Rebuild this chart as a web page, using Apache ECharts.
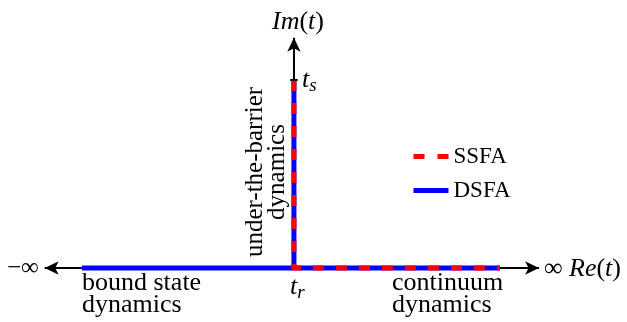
<!DOCTYPE html>
<html>
<head>
<meta charset="utf-8">
<script src="https://cdn.jsdelivr.net/npm/echarts@6/dist/echarts.min.js"></script>
<style>html,body{margin:0;padding:0;background:#fff;}#c{width:627px;height:322px;}</style>
</head>
<body>
<div id="c"></div>
<script>
// Contour in the complex time plane (abstract units: t_r = 0, Im t_s = 1)
const tr = 0;
const tsIm = 1;
const boundStart = -1.03;
const continuumEnd = 1.0;
const realAxisEnds = [-1.21, 1.19];
const imagAxisTop = 1.225;
const seriesNames = ['SSFA', 'DSFA'];
// DSFA path pieces
const dsfaHorizontal = [[boundStart, 0], [continuumEnd, 0]];
const dsfaVertical = [[tr, tsIm], [tr, 0]];
// SSFA path
const ssfaPath = [[tr, tsIm], [tr, 0], [continuumEnd, 0]];

const serif = 'Liberation Serif, Times New Roman, serif';
const chart = echarts.init(document.getElementById('c'), null, {renderer: 'canvas'});

const option = {
  backgroundColor: '#fff',
  animation: false,
  grid: {left: 0, right: 0, top: 0, bottom: 0},
  xAxis: {type: 'value', min: -1.427, max: 1.617, show: false},
  yAxis: {type: 'value', min: -0.287, max: 1.4255, show: false},
  legend: {
    orient: 'vertical', left: 406, top: 140, itemWidth: 35, itemHeight: 5, itemGap: 11,
    textStyle: {fontFamily: serif, fontSize: 23, color: '#000', padding: [0,0,0,0]},
    data: [
      {name: seriesNames[0], itemStyle: {opacity: 0}, lineStyle: {type: [11, 13], width: 5, color: '#ff0000'}},
      {name: seriesNames[1], itemStyle: {opacity: 0}, lineStyle: {type: 'solid', width: 5, color: '#0000ff'}}
    ]
  },
  series: [
    {
      name: 'axes', type: 'line', data: [], z: 1, silent: true,
      markLine: {
        silent: true, animation: false,
        label: {show: false},
        lineStyle: {color: '#000', width: 2, type: 'solid'},
        symbol: ['arrow', 'arrow'], symbolSize: [10, 14],
        data: [
          [{coord: [boundStart, 0], symbol: 'none'}, {coord: [realAxisEnds[0], 0]}],
          [{coord: [continuumEnd, 0], symbol: 'none'}, {coord: [realAxisEnds[1], 0]}],
          [{coord: [tr, tsIm], symbol: 'none'}, {coord: [tr, imagAxisTop]}],
          [{coord: [tr - 0.018, tsIm], symbol: 'none'}, {coord: [tr + 0.018, tsIm], symbol: 'none'}]
        ]
      }
    },
    {
      name: seriesNames[1], type: 'line', data: dsfaHorizontal, z: 2, symbol: 'none', showSymbol: false,
      lineStyle: {color: '#0000ff', width: 5, cap: 'butt'}, itemStyle: {color: '#0000ff'}
    },
    {
      name: seriesNames[1], type: 'line', data: dsfaVertical, z: 2, symbol: 'none', showSymbol: false,
      lineStyle: {color: '#0000ff', width: 5, cap: 'butt'}, itemStyle: {color: '#0000ff'}
    },
    {
      name: seriesNames[0], type: 'line', data: ssfaPath, z: 3, symbol: 'none', showSymbol: false,
      lineStyle: {color: '#ff0000', width: 5, type: [11, 12], cap: 'butt', join: 'miter'}, itemStyle: {color: '#ff0000'}
    }
  ],
  graphic: [
    {type: 'text', left: 272, top: 9, style: {
      text: '{i|Im}{n|(}{i|t}{n|)}',
      rich: {i: {fontFamily: serif, fontStyle: 'italic', fontSize: 26, fill: '#000'},
             n: {fontFamily: serif, fontSize: 26, fill: '#000'}}}},
    {type: 'text', left: 302, top: 67, style: {
      text: '{i|t}{s|s}',
      rich: {i: {fontFamily: serif, fontStyle: 'italic', fontSize: 26, fill: '#000'},
             s: {fontFamily: serif, fontStyle: 'italic', fontSize: 19, fill: '#000', padding: [12,0,0,0]}}}},
    {type: 'text', left: 290, top: 274, style: {
      text: '{i|t}{s|r}',
      rich: {i: {fontFamily: serif, fontStyle: 'italic', fontSize: 26, fill: '#000'},
             s: {fontFamily: serif, fontStyle: 'italic', fontSize: 19, fill: '#000', padding: [12,0,0,0]}}}},
    {type: 'text', left: 7, top: 256, style: {text: '\u2212\u221e', fontFamily: serif, fontSize: 25, fill: '#000'}},
    {type: 'text', left: 544, top: 256, style: {
      text: '{n|\u221e }{i|Re}{n|(}{i|t}{n|)}',
      rich: {i: {fontFamily: serif, fontStyle: 'italic', fontSize: 26, fill: '#000'},
             n: {fontFamily: serif, fontSize: 26, fill: '#000'}}}},
    {type: 'text', left: 82, top: 270, style: {text: 'bound state\ndynamics', fontFamily: serif, fontSize: 26, lineHeight: 22, fill: '#000'}},
    {type: 'text', left: 392, top: 270, style: {text: 'continuum\ndynamics', fontFamily: serif, fontSize: 26, lineHeight: 22, fill: '#000'}},
    {type: 'text', x: 266, y: 172, rotation: Math.PI / 2, style: {
      text: 'under-the-barrier\ndynamics', fontFamily: serif, fontSize: 25, lineHeight: 22, fill: '#000',
      align: 'center', verticalAlign: 'middle'}}
  ]
};
chart.setOption(option);
</script>
</body>
</html>
